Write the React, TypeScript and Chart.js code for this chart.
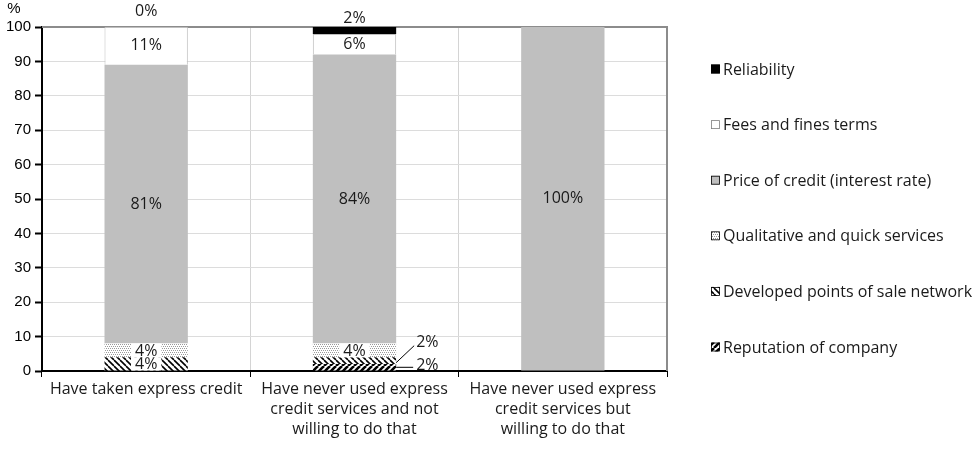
import React, { useEffect, useRef } from "react";
import { Chart, registerables } from "chart.js";
Chart.register(...registerables);

const categories: string[][] = [
  ["Have taken express credit"],
  ["Have never used express", "credit services and not", "willing to do that"],
  ["Have never used express", "credit services but", "willing to do that"],
];
const seriesNames = [
  "Reputation of company",
  "Developed points of sale network",
  "Qualitative and quick services",
  "Price of credit (interest rate)",
  "Fees and fines terms",
  "Reliability",
];
const reputation = [0, 2, 0];
const developed = [4, 2, 0];
const qualitative = [4, 4, 0];
const price = [81, 84, 100];
const fees = [11, 6, 0];
const reliability = [0, 2, 0];
const yTickValues = [0, 10, 20, 30, 40, 50, 60, 70, 80, 90, 100];
const labelModes = [
  ["", "rightLow", ""],
  ["boxed", "rightHigh", ""],
  ["boxed", "boxed", ""],
  ["center", "center", "center"],
  ["center", "center", ""],
  ["above0", "above", ""],
];

const TEXT_FAMILY = "'Open Sans', 'Noto Sans', sans-serif";
const LABEL_FONT = "16px " + TEXT_FAMILY;
const AXIS_FONT = "'Liberation Sans', Arial, sans-serif";

function makePattern(kind: string): CanvasPattern | string {
  const c = document.createElement("canvas");
  const s = kind === "dots" ? 4 : 6;
  c.width = s;
  c.height = s;
  const g = c.getContext("2d")!;
  g.fillStyle = "#ffffff";
  g.fillRect(0, 0, s, s);
  if (kind === "dots") {
    g.fillStyle = "#9a9a9a";
    g.fillRect(0, 0, 1, 1);
    g.fillRect(2, 0, 1, 1);
    g.fillRect(1, 2, 1, 1);
    g.fillRect(3, 2, 1, 1);
  } else if (kind === "back") {
    g.strokeStyle = "#000";
    g.lineWidth = 1.6;
    for (let o = -s; o <= s; o += s) {
      g.beginPath();
      g.moveTo(o, 0);
      g.lineTo(o + s, s);
      g.stroke();
    }
  } else {
    g.strokeStyle = "#000";
    g.lineWidth = 2.6;
    for (let o = -s; o <= 2 * s; o += s) {
      g.beginPath();
      g.moveTo(o, s);
      g.lineTo(o + s, 0);
      g.stroke();
    }
  }
  const p = g.createPattern(c, "repeat");
  return p || "#888";
}

export default function App() {
  const ref = useRef<HTMLCanvasElement | null>(null);
  useEffect(() => {
    if (!ref.current) return;
    const fills: any[] = [
      makePattern("fwd"),
      makePattern("back"),
      makePattern("dots"),
      "#bfbfbf",
      "#ffffff",
      "#000000",
    ];
    const borders = ["#000", "#000", "#bfbfbf", "#bfbfbf", "#bfbfbf", "#000"];
    const values = [reputation, developed, qualitative, price, fees, reliability];

    const labelPlugin = {
      id: "labels",
      afterDatasetsDraw(chart: any) {
        const ctx = chart.ctx;
        ctx.save();
        ctx.font = LABEL_FONT;
        ctx.fillStyle = "#1a1a1a";
        ctx.textBaseline = "middle";
        ctx.textAlign = "center";
        values.forEach((arr, di) => {
          const meta = chart.getDatasetMeta(di);
          arr.forEach((v, ci) => {
            const mode = labelModes[di][ci];
            if (!mode) return;
            const el = meta.data[ci];
            const txt = v + "%";
            const cy = (el.y + el.base) / 2;
            const right = el.x + el.width / 2;
            if (mode === "center") {
              ctx.fillText(txt, el.x, cy);
            } else if (mode === "boxed") {
              const w = ctx.measureText(txt).width + 8;
              ctx.fillStyle = "#fff";
              ctx.fillRect(el.x - w / 2, el.y, w, el.base - el.y);
              ctx.fillStyle = "#1a1a1a";
              ctx.fillText(txt, el.x, cy + 1);
            } else if (mode === "above") {
              ctx.fillText(txt, el.x, el.y - 9);
            } else if (mode === "above0") {
              ctx.fillText(txt, el.x, el.y - 16);
            } else if (mode === "rightHigh") {
              ctx.strokeStyle = "#000";
              ctx.lineWidth = 1;
              ctx.beginPath();
              ctx.moveTo(right, cy + 2);
              ctx.lineTo(right + 18, cy - 15);
              ctx.stroke();
              ctx.textAlign = "left";
              ctx.fillText(txt, right + 20, cy - 18);
              ctx.textAlign = "center";
            } else if (mode === "rightLow") {
              ctx.strokeStyle = "#000";
              ctx.lineWidth = 1;
              ctx.beginPath();
              ctx.moveTo(right, cy);
              ctx.lineTo(right + 17, cy);
              ctx.stroke();
              ctx.textAlign = "left";
              ctx.fillText(txt, right + 20, cy - 2);
              ctx.textAlign = "center";
            }
          });
        });
        ctx.restore();
      },
    };

    const framePlugin = {
      id: "frame",
      beforeDatasetsDraw(chart: any) {
        const { ctx, chartArea: a } = chart;
        ctx.save();
        ctx.strokeStyle = "#8c8c8c";
        ctx.lineWidth = 2;
        ctx.beginPath();
        ctx.moveTo(a.left, a.top);
        ctx.lineTo(a.right, a.top);
        ctx.lineTo(a.right, a.bottom);
        ctx.stroke();
        ctx.restore();
      },
      afterDraw(chart: any) {
        const { ctx, chartArea: a } = chart;
        ctx.save();
        ctx.font = "15px " + AXIS_FONT;
        ctx.fillStyle = "#000";
        ctx.textAlign = "center";
        ctx.textBaseline = "middle";
        ctx.fillText("%", 14, 9);
        // legend
        ctx.font = "16px " + TEXT_FAMILY;
        ctx.textAlign = "left";
        const x0 = a.right + 44;
        const yStart = a.top + 42;
        const step = 55.6;
        for (let k = 0; k < seriesNames.length; k++) {
          const di = seriesNames.length - 1 - k;
          const y = yStart + k * step;
          ctx.fillStyle = fills[di];
          ctx.fillRect(x0, y - 4.5, 9, 9);
          ctx.strokeStyle = di === 4 ? "#7f7f7f" : "#000";
          ctx.lineWidth = 0.8;
          ctx.strokeRect(x0 + 0.5, y - 4, 8, 8);
          ctx.fillStyle = "#1a1a1a";
          ctx.fillText(seriesNames[di], x0 + 12, y + 1);
        }
        ctx.restore();
      },
    };

    const chart = new Chart(ref.current, {
      type: "bar",
      data: {
        labels: categories,
        datasets: values.map((arr, i) => ({
          label: seriesNames[i],
          data: arr,
          backgroundColor: fills[i],
          borderColor: borders[i],
          borderWidth: i === 4 ? 1 : 0,
          categoryPercentage: 1,
          barPercentage: 0.4,
        })),
      },
      options: {
        responsive: false,
        animation: false,
        layout: { padding: { top: 27, right: 305, left: 0, bottom: 0 } },
        plugins: { legend: { display: false }, tooltip: { enabled: false } },
        scales: {
          x: {
            stacked: true,
            grid: {
              offset: true,
              color: "#d4d4d4",
              lineWidth: 1,
              tickLength: 6,
              tickColor: "#000",
            },
            border: { display: true, color: "#000", width: 2 },
            ticks: {
              color: "#1a1a1a",
              font: { family: TEXT_FAMILY, size: 16, lineHeight: 1.25 },
              padding: 2,
              maxRotation: 0,
              autoSkip: false,
            },
            afterFit(scale: any) {
              scale.height = 80;
            },
          },
          y: {
            stacked: true,
            min: 0,
            max: 100,
            afterBuildTicks(scale: any) {
              scale.ticks = yTickValues.map((v) => ({ value: v }));
            },
            grid: {
              color: (c: any) => (c.tick && c.tick.value === 100 ? "rgba(0,0,0,0)" : "#dcdcdc"),
              lineWidth: 1,
              tickLength: 7,
              tickColor: "#000",
              tickWidth: 2,
            },
            border: { display: true, color: "#000", width: 2 },
            ticks: {
              color: "#000",
              font: { family: AXIS_FONT, size: 15 },
              padding: 4,
            },
            afterFit(scale: any) {
              scale.width = 42;
            },
          },
        },
      },
      plugins: [framePlugin, labelPlugin],
    });
    return () => chart.destroy();
  }, []);
  return (
    <div style={{ position: "fixed", left: 0, top: 0, width: 972, height: 451, background: "#fff" }}>
      <canvas ref={ref} width={972} height={451} style={{ display: "block" }} />
    </div>
  );
}
